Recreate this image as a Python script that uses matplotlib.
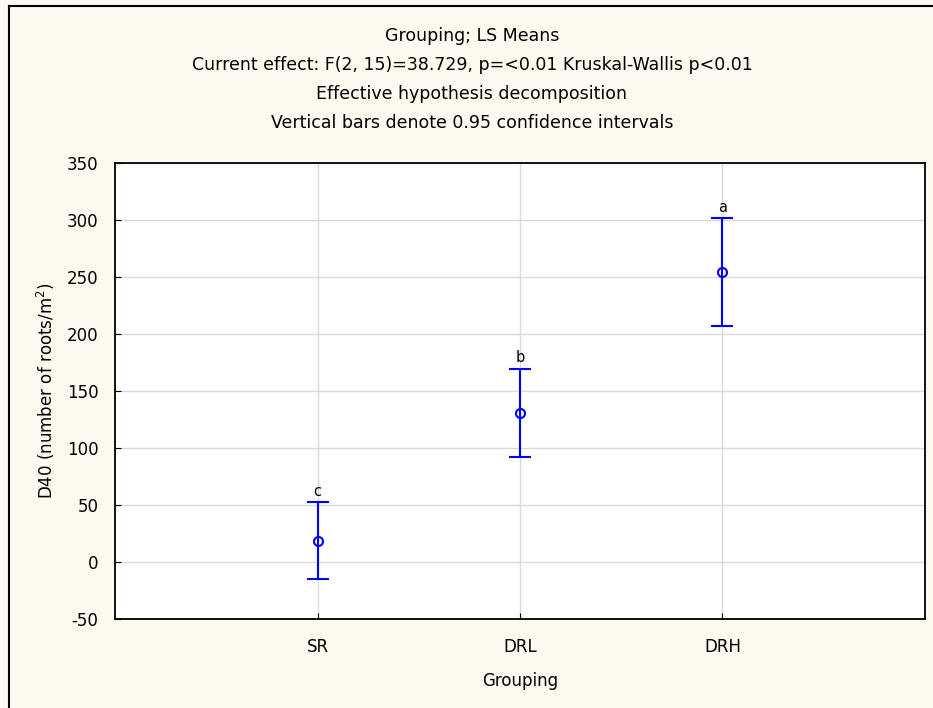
import matplotlib
matplotlib.use("Agg")
import matplotlib.pyplot as plt
from matplotlib.lines import Line2D

plt.rcParams['font.family'] = ['DejaVu Sans']
plt.rcParams['mathtext.default'] = 'regular'
plt.rcParams['axes.unicode_minus'] = False

# LS means with 0.95 confidence intervals
groups = ["SR", "DRL", "DRH"]
means = [18.4, 130.4, 254.7]
ci_low = [-14.6, 92.4, 207.3]
ci_high = [52.4, 169.6, 301.8]
letters = ["c", "b", "a"]

title_lines = [
    "Grouping; LS Means",
    "Current effect: F(2, 15)=38.729, p=<0.01 Kruskal-Wallis p<0.01",
    "Effective hypothesis decomposition",
    "Vertical bars denote 0.95 confidence intervals",
]

W, H = 933, 708
fig = plt.figure(figsize=(W / 100, H / 100), dpi=100, facecolor="#fdf9ee")
ax = fig.add_axes([115 / W, 1 - 619 / H, 810 / W, (619 - 163) / H])
ax.set_facecolor("white")

# outer frame, only left and top edges are in view
fx, fy = 8.5 / W, 1 - 5.5 / H
fig.lines.append(Line2D([fx, fx], [0, fy], transform=fig.transFigure,
                        color="black", linewidth=1.5))
fig.lines.append(Line2D([fx, 1], [fy, fy], transform=fig.transFigure,
                        color="black", linewidth=1.5))

x = list(range(1, len(groups) + 1))
yerr = [[m - lo for m, lo in zip(means, ci_low)],
        [hi - m for m, hi in zip(means, ci_high)]]
ax.errorbar(x, means, yerr=yerr, fmt="o", color="#0000ff", mfc="none",
            mec="#0000ff", ms=6.5, mew=1.5, elinewidth=1.5, capsize=8,
            capthick=1.5, zorder=3)

for xi, hi, lab in zip(x, ci_high, letters):
    ax.text(xi, hi + 3, lab, ha="center", va="bottom", fontsize=10.5)

ax.set_xlim(0, 4)
ax.set_ylim(-50, 350)
ax.set_xticks(x)
ax.set_xticklabels(groups)
ax.set_yticks(range(-50, 351, 50))
ax.grid(True, color="#d9d9d9", linewidth=1)
ax.set_axisbelow(True)
ax.tick_params(direction="in", length=4, labelsize=12)
ax.tick_params(axis="y", pad=12)
ax.tick_params(axis="x", pad=14)
for s in ax.spines.values():
    s.set_linewidth(1.3)
    s.set_color("black")

ax.set_xlabel("Grouping", fontsize=12, labelpad=11)
ax.set_ylabel("D40 (number of roots/m$^2$)", fontsize=12, labelpad=7)

for i, line in enumerate(title_lines):
    fig.text(472 / W, 1 - (36 + 29 * i) / H, line,
             ha="center", va="center", fontsize=12.5)

fig.savefig("out.png", dpi=100, facecolor=fig.get_facecolor())
